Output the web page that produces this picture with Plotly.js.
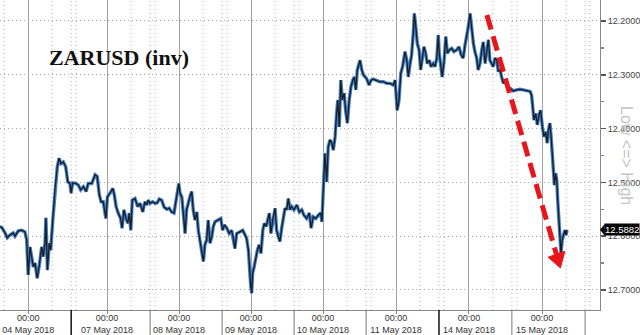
<!DOCTYPE html>
<html>
<head>
<meta charset="utf-8">
<script src="https://cdn.plot.ly/plotly-3.0.1.min.js"></script>
<style>html,body{margin:0;padding:0;background:#fff;}#chart{width:640px;height:335px;}</style>
</head>
<body>
<div id="chart"></div>
<script>
// trading-time axis, in hours from the left edge of the chart
const hours = [0.0,0.6,1.7,2.4,3.3,4.4,5.0,6.1,7.2,8.3,8.9,9.1,9.4,10.0,10.6,11.1,11.7,12.4,13.1,13.9,14.4,15.0,15.3,15.8,16.4,16.9,17.6,18.3,19.1,19.7,20.3,21.1,21.9,22.6,23.3,23.7,24.2,25.3,26.1,26.9,27.8,28.7,29.4,30.6,31.7,32.4,33.1,33.7,34.4,35.3,35.8,36.7,37.6,38.1,38.7,39.4,40.2,40.7,41.3,42.0,42.6,43.1,43.6,44.1,45.0,45.9,46.7,47.6,48.3,48.9,49.4,50.0,50.9,51.7,52.4,53.1,53.9,54.7,55.6,56.4,57.2,58.0,58.7,59.2,59.6,60.0,60.6,61.1,61.7,62.2,62.8,63.3,63.9,64.4,65.0,65.6,66.1,66.7,67.2,67.8,68.3,68.9,69.4,70.0,70.6,71.1,71.7,72.8,73.6,74.2,74.8,75.6,76.4,77.2,77.8,78.3,78.9,80.0,80.9,81.7,82.2,82.8,83.1,83.6,83.9,84.2,84.7,85.3,85.8,86.4,87.0,87.6,88.1,88.7,89.2,89.8,90.3,90.9,91.7,92.2,92.8,93.3,93.9,94.4,95.0,95.6,96.1,96.7,97.2,98.0,98.9,99.8,100.6,101.3,102.2,103.1,103.7,104.4,105.3,106.1,106.9,107.3,107.8,108.0,108.3,108.9,109.4,110.0,110.6,111.1,111.7,112.2,112.6,113.1,113.6,114.1,114.7,115.2,115.8,116.4,117.0,117.6,118.1,118.6,119.1,119.7,120.0,120.6,121.1,121.7,122.2,123.0,123.7,124.4,125.6,126.7,127.8,128.9,130.0,131.1,131.7,132.0,132.4,133.0,133.6,134.2,135.0,135.6,136.1,136.7,137.2,137.8,138.1,138.6,139.1,139.7,140.2,140.8,141.3,141.9,142.4,143.1,143.7,144.4,145.0,145.6,146.1,146.4,146.9,147.4,148.0,148.6,149.1,149.8,150.6,151.3,152.2,153.0,153.7,154.4,155.0,155.6,156.1,156.7,157.2,157.8,158.3,158.9,159.4,160.0,160.6,161.1,161.7,162.2,162.8,163.3,163.9,164.4,165.0,165.6,166.1,166.7,167.2,167.8,168.3,169.1,170.0,171.1,172.2,173.3,174.4,175.6,176.7,177.2,177.6,178.0,178.6,179.1,179.8,180.2,180.8,181.3,181.9,182.4,182.8,183.3,183.7,184.1,184.4,184.8,185.2,185.6,185.9,186.3,186.7,187.0,187.4,187.9,188.3,188.7,189.0];
const zarusd = [12.582,12.584,12.594,12.603,12.598,12.594,12.600,12.590,12.589,12.592,12.607,12.638,12.672,12.620,12.638,12.657,12.650,12.678,12.654,12.620,12.638,12.613,12.566,12.663,12.613,12.626,12.570,12.514,12.471,12.455,12.465,12.462,12.471,12.499,12.502,12.520,12.501,12.502,12.505,12.514,12.508,12.517,12.502,12.502,12.486,12.489,12.523,12.536,12.536,12.567,12.527,12.520,12.511,12.523,12.545,12.557,12.567,12.585,12.551,12.567,12.576,12.557,12.589,12.533,12.530,12.545,12.539,12.555,12.536,12.542,12.533,12.539,12.536,12.539,12.538,12.531,12.533,12.546,12.550,12.548,12.555,12.557,12.533,12.511,12.502,12.520,12.527,12.557,12.595,12.551,12.536,12.527,12.517,12.551,12.570,12.555,12.589,12.610,12.632,12.647,12.616,12.607,12.570,12.613,12.601,12.582,12.573,12.570,12.567,12.589,12.579,12.585,12.595,12.589,12.604,12.623,12.595,12.592,12.589,12.598,12.604,12.626,12.663,12.694,12.706,12.669,12.657,12.638,12.626,12.616,12.632,12.589,12.576,12.582,12.570,12.557,12.595,12.570,12.548,12.589,12.601,12.610,12.585,12.570,12.548,12.551,12.530,12.551,12.545,12.551,12.542,12.555,12.551,12.561,12.567,12.557,12.585,12.564,12.567,12.561,12.557,12.573,12.520,12.496,12.446,12.499,12.434,12.421,12.427,12.440,12.415,12.372,12.347,12.397,12.310,12.347,12.334,12.366,12.390,12.347,12.322,12.310,12.304,12.328,12.291,12.279,12.273,12.291,12.300,12.304,12.307,12.319,12.310,12.308,12.310,12.313,12.313,12.316,12.316,12.319,12.310,12.338,12.366,12.347,12.297,12.285,12.257,12.273,12.304,12.279,12.263,12.220,12.186,12.211,12.242,12.254,12.291,12.269,12.248,12.260,12.279,12.273,12.285,12.279,12.285,12.269,12.226,12.260,12.279,12.304,12.276,12.229,12.260,12.254,12.251,12.257,12.254,12.248,12.263,12.269,12.245,12.229,12.211,12.186,12.217,12.242,12.257,12.269,12.291,12.279,12.254,12.239,12.279,12.254,12.235,12.273,12.279,12.285,12.269,12.273,12.294,12.291,12.304,12.316,12.310,12.322,12.325,12.330,12.328,12.327,12.328,12.330,12.331,12.338,12.359,12.384,12.372,12.393,12.372,12.366,12.397,12.415,12.406,12.427,12.403,12.390,12.415,12.452,12.483,12.505,12.483,12.496,12.533,12.564,12.595,12.632,12.607,12.595,12.589,12.598,12.5882];

// day boundaries (00:00) on the trading-time axis and their labels
const dayPos = [9.4, 35.7, 59.7, 83.7, 107.7, 132.0, 156.3, 180.7];
const dayLabels = ['04 May 2018','07 May 2018','08 May 2018','09 May 2018','10 May 2018','11 May 2018','14 May 2018','15 May 2018'];
const timeLabel = '00:00';
// intraday session marks (hours after 00:00)
const sessionOffsets = [8, 14.33, 16];
const yTicks = [12.2, 12.3, 12.4, 12.5, 12.6, 12.7];
const yMinor = [12.25, 12.35, 12.45, 12.55, 12.65];
const lastPrice = 12.5882;

const shapes = [];
const allDays = [dayPos[0] - 24].concat(dayPos);
allDays.forEach(d => {
  sessionOffsets.forEach(o => {
    const x = d + o;
    if (x > 0 && x < 200) {
      shapes.push({type:'line', xref:'x', yref:'paper', x0:x, x1:x, y0:0, y1:1,
        line:{color:'#b0b0b0', width:1, dash:'1px,3px'}, layer:'below'});
    }
  });
});
// label separators below the axis
dayPos.forEach((d, i) => {
  const x = d + sessionOffsets[1];
  if (x < 200) {
    const thick = (i === 0 || i === 5);
    shapes.push({type:'line', xref:'x', yref:'paper', x0:x, x1:x, y0:0, y1:-0.085,
      line:{color: thick ? '#222' : '#777', width: thick ? 1.6 : 1}});
  }
});
// red dashed arrow
shapes.push({type:'line', xref:'x', yref:'y', x0:162.3, y0:12.189, x1:185.5, y1:12.634,
  line:{color:'#e8161b', width:5, dash:'15px,7px'}});
shapes.push({type:'path', xref:'x', yref:'y',
  path:'M 186.8,12.659 L 188.3,12.628 L 182.7,12.639 Z',
  fillcolor:'#e8161b', line:{color:'#e8161b', width:1}});
// price tag pointer
shapes.push({type:'path', xref:'paper', yref:'y',
  path:'M 1.0,' + lastPrice + ' L 1.008,' + (lastPrice - 0.011) + ' L 1.008,' + (lastPrice + 0.011) + ' Z',
  fillcolor:'#000', line:{width:0}});

const traces = [
  {x: hours, y: zarusd, type:'scatter', mode:'lines', line:{color:'#3f80cc', width:3.4}, hoverinfo:'skip'},
  {x: hours, y: zarusd, type:'scatter', mode:'lines', line:{color:'#1c1c1c', width:1.3}, hoverinfo:'skip'}
];

const layout = {
  width:640, height:335,
  margin:{l:0, r:40, t:0, b:25},
  paper_bgcolor:'#fff', plot_bgcolor:'#fff',
  showlegend:false,
  xaxis:{
    range:[0,200], tickmode:'array', tickvals:dayPos,
    ticktext: dayLabels.map(l => timeLabel + '<br>' + l),
    showgrid:true, gridcolor:'#a0a0a0', gridwidth:1, zeroline:false,
    showline:true, linecolor:'#888', linewidth:1, ticks:'outside', ticklen:3, tickcolor:'#888',
    ticklabelstandoff:-4,
    tickfont:{family:'Liberation Sans, Arial, sans-serif', size:9, color:'#333'}, fixedrange:true
  },
  yaxis:{
    range:[12.7372, 12.161], side:'right', tickmode:'array', tickvals:yTicks,
    ticktext: yTicks.map(v => v.toFixed(4)),
    showgrid:true, gridcolor:'#a8a8a8', griddash:'1px,3px', gridwidth:1, zeroline:false,
    showline:true, linecolor:'#888', linewidth:1, ticks:'outside', ticklen:5, tickcolor:'#555', tickwidth:1.5,
    minor:{tickmode:'array', tickvals:yMinor, ticks:'outside', ticklen:3, tickcolor:'#888', showgrid:false},
    tickfont:{family:'Liberation Sans, Arial, sans-serif', size:9, color:'#444'}, fixedrange:true
  },
  shapes: shapes,
  annotations:[
    {text:'<b>ZARUSD (inv)</b>', xref:'paper', yref:'paper', x:0.078, y:0.816, xanchor:'left', yanchor:'middle',
     showarrow:false, font:{family:'Liberation Serif, Times New Roman, serif', size:22, color:'#111'}},
    {text:'Low <=> High', xref:'paper', yref:'paper', x:1.045, y:0.5, textangle:90, showarrow:false,
     xanchor:'center', yanchor:'middle', font:{family:'Liberation Sans, Arial, sans-serif', size:16, color:'#c4c4c4'}},
    {text: lastPrice.toFixed(4), xref:'paper', yref:'y', x:1.007, y:lastPrice, xanchor:'left', yanchor:'middle',
     showarrow:false, bgcolor:'#000', borderpad:0,
     font:{family:'Liberation Sans, Arial, sans-serif', size:9.5, color:'#fff'}}
  ]
};

Plotly.newPlot('chart', traces, layout, {staticPlot:true, displayModeBar:false});
</script>
</body>
</html>
